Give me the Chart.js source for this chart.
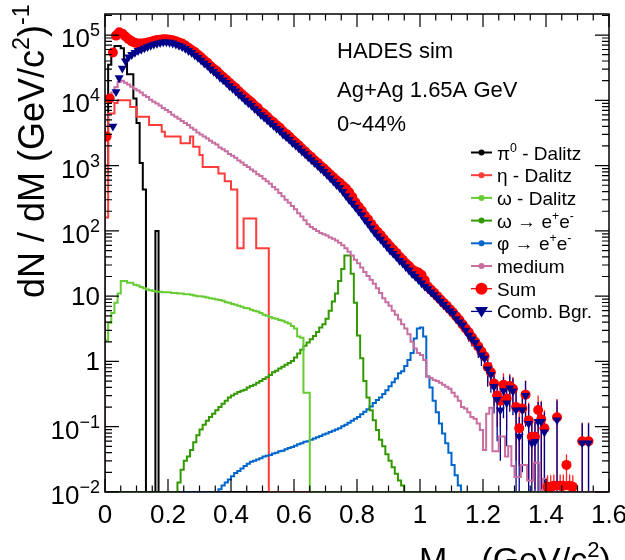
<!DOCTYPE html>
<html>
<head>
<meta charset="utf-8">
<script src="https://cdn.jsdelivr.net/npm/chart.js@4.4.1/dist/chart.umd.min.js"></script>
<style>
  html, body { margin: 0; padding: 0; background: #fff; }
  canvas { display: block; }
</style>
</head>
<body>
<canvas id="dilepton" width="625" height="560"></canvas>
<script>
// all histograms use 10 MeV bins, values are dN/dM per bin
const binWidth = 0.01;
const xMin = 0, xMax = 1.6;
const yMin = 0.01, yMax = 2.1e5;

// cocktail components, each array starts at its own low bin edge
const pi0Start = 0.00;
const pi0Dalitz = [1.0e3, 3.5e4, 5.9e4, 6.8e4, 6.8e4, 6.3e4, 4.2e4, 2.5e4, 2.5e4, 1.07e4,
  4.5e3, 1.1e3, 430, 0, 0, 0, 100];

const etaStart = 0.00;
const etaDalitz = [160, 6.3e3, 6.3e3, 9.1e3, 1.0e4, 1.0e4, 1.0e4, 1.0e4, 7.9e3, 7.9e3,
  5.6e3, 5.6e3, 5.6e3, 5.6e3, 4.2e3, 4.2e3, 4.2e3, 4.2e3, 3.3e3, 2.8e3,
  2.8e3, 2.8e3, 2.8e3, 2.8e3, 2.2e3, 2.2e3, 2.2e3, 2.8e3, 1.95e3, 1.95e3,
  1.45e3, 950, 950, 950, 950, 950, 760, 760, 575, 575,
  430, 430, 54, 54, 155, 155, 155, 155, 54, 54,
  54, 54];

const omegaDalStart = 0.00;
const omegaDalitz = [2.1, 3.9, 5.5, 7.9, 11, 17, 17, 16, 16, 15,
  14.5, 13.8, 13.2, 12.6, 12.3, 12.0, 11.7, 11.7, 11.5, 11.5,
  11.5, 11.2, 11.2, 11.0, 11.0, 10.7, 10.7, 10.5, 10.2, 10.0,
  10.0, 9.8, 9.5, 9.3, 9.1, 8.9, 8.7, 8.5, 8.1, 7.9,
  7.6, 7.4, 7.1, 6.9, 6.6, 6.5, 6.2, 6.0, 5.8, 5.5,
  5.2, 5.0, 4.8, 4.6, 4.5, 4.3, 4.2, 4.0, 3.8, 3.5,
  3.2, 2.4, 2.3, 0.33, 0.33];

const omegaEeStart = 0.23;
const omegaEe = [0.014, 0.022, 0.030, 0.035, 0.044, 0.058, 0.074, 0.091, 0.107, 0.123,
  0.141, 0.158, 0.178, 0.20, 0.224, 0.25, 0.28, 0.30, 0.32, 0.34,
  0.355, 0.37, 0.40, 0.42, 0.44, 0.47, 0.50, 0.54, 0.575, 0.62,
  0.68, 0.72, 0.78, 0.83, 0.89, 0.95, 1.02, 1.15, 1.32, 1.51,
  1.74, 1.95, 2.19, 2.45, 2.82, 3.3, 3.7, 4.5, 6.0, 8.3,
  11, 17, 26, 42, 42, 22, 7.9, 2.5, 1.12, 0.50,
  0.28, 0.178, 0.126, 0.089, 0.063, 0.050, 0.038, 0.030, 0.024, 0.019,
  0.015, 0.0126];

const phiStart = 0.36;
const phiEe = [0.011, 0.0126, 0.014, 0.0155, 0.0174, 0.0195, 0.021, 0.023, 0.025, 0.027,
  0.029, 0.030, 0.0316, 0.033, 0.035, 0.036, 0.037, 0.039, 0.040, 0.042,
  0.043, 0.045, 0.047, 0.049, 0.051, 0.054, 0.056, 0.059, 0.060, 0.063,
  0.066, 0.069, 0.072, 0.076, 0.079, 0.083, 0.087, 0.091, 0.095, 0.102,
  0.107, 0.115, 0.123, 0.132, 0.141, 0.155, 0.17, 0.186, 0.204, 0.23,
  0.257, 0.28, 0.316, 0.363, 0.417, 0.48, 0.55, 0.66, 0.71, 0.85,
  1.05, 1.35, 2.24, 3.2, 3.3, 2.4, 0.59, 0.40, 0.25, 0.166,
  0.112, 0.079, 0.056, 0.040, 0.026, 0.018, 0.0126];

const mediumStart = 0.00;
const medium = [1.0e4, 1.12e4, 1.32e4, 1.58e4, 1.9e4, 2.0e4, 1.86e4, 1.74e4, 1.62e4, 1.51e4,
  1.41e4, 1.32e4, 1.2e4, 1.12e4, 1.02e4, 9.5e3, 8.9e3, 8.3e3, 7.6e3, 7.1e3,
  6.6e3, 6.0e3, 5.6e3, 5.2e3, 4.8e3, 4.5e3, 4.2e3, 3.8e3, 3.55e3, 3.2e3,
  3.0e3, 2.8e3, 2.6e3, 2.4e3, 2.24e3, 2.1e3, 1.9e3, 1.78e3, 1.66e3, 1.51e3,
  1.41e3, 1.32e3, 1.2e3, 1.12e3, 1.02e3, 955, 870, 810, 740, 690,
  630, 575, 525, 470, 430, 380, 340, 300, 270, 240,
  215, 186, 166, 145, 126, 115, 107, 100, 93, 89,
  85, 79, 76, 71, 66, 60, 54, 48, 42, 36,
  32, 27.5, 23.4, 20.4, 17.8, 15.5, 13.2, 11.2, 9.3, 8.1,
  7.1, 6.0, 5.2, 4.4, 3.7, 3.2, 2.6, 2.0, 1.58, 1.35,
  1.26, 1.05, 0.59, 0.56, 0.52, 0.50, 0.47, 0.44, 0.41, 0.38,
  0.33, 0.29, 0.25, 0.20, 0.19, 0.166, 0.141, 0.132, 0.112, 0.089,
  0.044, 0.158, 0.195, 0.042, 0.042, 0.071, 0.071, 0.035, 0.050, 0.025,
  0.017, 0.017, 0.026, 0.026, 0.015, 0.015, 0.028, 0.028, 0.0107, 0.016,
  0.0126, 0.011];

// markers: sum and combinatorial background, null = empty bin
const sumStart = 0.00;
const sumValues = [2.8e3, 1.07e4, 5.4e4, 9.8e4, 1.1e5, 1.05e5, 9.5e4, 8.6e4, 8.0e4, 7.6e4,
  7.4e4, 7.4e4, 7.5e4, 7.7e4, 7.9e4, 8.2e4, 8.4e4, 8.5e4, 8.6e4, 8.6e4,
  8.5e4, 8.3e4, 8.0e4, 7.7e4, 7.4e4, 6.9e4, 6.4e4, 5.9e4, 5.5e4, 5.0e4,
  4.55e4, 4.1e4, 3.75e4, 3.35e4, 3.05e4, 2.8e4, 2.5e4, 2.27e4, 2.07e4, 1.85e4,
  1.69e4, 1.54e4, 1.37e4, 1.24e4, 1.12e4, 1.02e4, 9.3e3, 8.3e3, 7.6e3, 6.7e3,
  6.2e3, 5.6e3, 5.0e3, 4.6e3, 4.15e3, 3.8e3, 3.35e3, 3.06e3, 2.78e3, 2.49e3,
  2.26e3, 2.05e3, 1.83e3, 1.66e3, 1.48e3, 1.35e3, 1.21e3, 1.10e3, 985, 900,
  810, 730, 660, 595, 545, 490, 445, 390, 330, 275,
  235, 205, 172, 150, 128, 111, 97, 86, 75, 66,
  58, 52, 46, 40, 36, 32, 29, 25.5, 24, 23,
  21, 17.5, 14, 12.5, 11.3, 10.0, 8.9, 7.9, 7.1, 6.3,
  5.6, 4.9, 4.3, 3.7, 3.2, 2.8, 2.35, 2.0, 1.7, 1.42,
  1.2, 0.82, 0.68, 0.46, 0.30, 0.25, 0.44, 0.27, 0.42, 0.38,
  0.20, 0.095, 0.19, 0.31, 0.125, 0.07, 0.07, 0.18, 0.13, 0.095,
  0.012, 0.012, 0.0125, 0.14, 0.0125, 0.0125, 0.026, 0.0125, 0.012, null,
  null, 0.06, null, 0.06];

const cbStart = 0.00;
const cbValues = [null, null, 4.0e3, 1.35e4, 2.2e4, 3.1e4, 4.0e4, 4.6e4, 5.0e4, 5.4e4,
  5.75e4, 6.0e4, 6.3e4, 6.6e4, 6.9e4, 7.2e4, 7.4e4, 7.6e4, 7.8e4, 7.8e4,
  7.7e4, 7.5e4, 7.2e4, 6.9e4, 6.6e4, 6.2e4, 5.75e4, 5.4e4, 4.9e4, 4.5e4,
  4.1e4, 3.7e4, 3.4e4, 3.0e4, 2.75e4, 2.5e4, 2.24e4, 2.04e4, 1.86e4, 1.66e4,
  1.51e4, 1.38e4, 1.23e4, 1.12e4, 1.0e4, 9.1e3, 8.3e3, 7.4e3, 6.8e3, 6.0e3,
  5.5e3, 5.0e3, 4.5e3, 4.1e3, 3.7e3, 3.4e3, 3.0e3, 2.75e3, 2.5e3, 2.24e3,
  2.04e3, 1.86e3, 1.66e3, 1.51e3, 1.35e3, 1.23e3, 1.10e3, 1.0e3, 890, 810,
  720, 645, 575, 510, 455, 400, 345, 300, 265, 230,
  200, 175, 148, 129, 110, 95, 83, 74, 65, 57,
  50, 45, 40, 35, 32, 28, 25, 22, 20, 17.8,
  15.8, 14.1, 12.9, 11.5, 10.5, 9.3, 8.3, 7.4, 6.6, 5.9,
  5.4, 4.5, 4.0, 3.6, 3.0, 2.5, 2.2, 1.95, 1.58, 1.25,
  1.12, 0.76, 0.63, 0.41, 0.26, 0.18, 0.355, 0.23, 0.39, 0.35,
  0.18, 0.071, 0.18, 0.30, 0.112, 0.056, 0.059, 0.12, 0.12, 0.083,
  null, null, null, 0.126, null, null, null, null, null, null,
  null, 0.056, null, 0.056];

// statistical errors of the high-mass tail, starting at 1.10
const errStart = 1.10;
const sumErr = [0.6, 0.6, 0.55, 0.6, 0.55, 0.5, 0.5, 0.45, 0.45, 0.4,
  0.4, 0.35, 0.3, 0.25, 0.2, 0.15, 0.22, 0.18, 0.22, 0.2,
  0.17, 0.07, 0.16, 0.2, 0.11, 0.056, 0.059, 0.12, 0.12, 0.083,
  0.006, 0.006, 0.006, 0.126, 0.006, 0.006, 0.012, 0.006, 0.006, 0,
  0, 0.056, 0, 0.056];
const cbErr = [0.6, 0.6, 0.55, 0.6, 0.55, 0.5, 0.5, 0.45, 0.45, 0.4,
  0.4, 0.35, 0.3, 0.25, 0.2, 0.15, 0.22, 0.18, 0.22, 0.2,
  0.17, 0.07, 0.16, 0.2, 0.11, 0.056, 0.059, 0.12, 0.12, 0.083,
  0, 0, 0, 0.126, 0, 0, 0, 0, 0, 0,
  0, 0.056, 0, 0.056];

const xTickValues = [0, 0.2, 0.4, 0.6, 0.8, 1.0, 1.2, 1.4, 1.6];
const xTickLabels = ['0', '0.2', '0.4', '0.6', '0.8', '1', '1.2', '1.4', '1.6'];
const yTickValues = [1e-2, 1e-1, 1, 10, 1e2, 1e3, 1e4, 1e5];
const yTickBase = ['10', '10', '1', '10', '10', '10', '10', '10'];
const yTickExp = ['\u22122', '\u22121', '', '', '2', '3', '4', '5'];

const infoLines = ['HADES sim', 'Ag+Ag 1.65A GeV', '0~44%'];
const xTitle = 'M_{ee} (GeV/c^{2})';
const yTitle = 'dN / dM (GeV/c^{2})^{-1}';

const FONT = '"Liberation Sans", Arial, Helvetica, sans-serif';

function fullBins(start, values) {
  const n = Math.round((xMax - xMin) / binWidth);
  const out = new Array(n).fill(0);
  const s = Math.round(start / binWidth);
  values.forEach((v, i) => { out[s + i] = v; });
  return out;
}

// histogram outline: one point per low bin edge, empty bins sit on the frame
function histPoints(start, values) {
  const bins = fullBins(start, values);
  const pts = [{ x: xMin, y: yMin }];
  bins.forEach((v, i) => pts.push({ x: xMin + i * binWidth, y: Math.max(v, yMin) }));
  pts.push({ x: xMax, y: Math.max(bins[bins.length - 1], yMin) });
  return pts;
}

function markerPoints(start, values) {
  const pts = [];
  values.forEach((v, i) => {
    if (v !== null) pts.push({ x: start + (i + 0.5) * binWidth, y: v });
  });
  return pts;
}

function hist(label, color, start, values, order) {
  return {
    label, data: histPoints(start, values), borderColor: color, backgroundColor: color,
    borderWidth: 2, pointRadius: 0, stepped: true, fill: false, order,
    borderJoinStyle: 'miter', legendMarker: 'dot'
  };
}

// text with ^{..} and _{..}
function richParts(text) {
  const parts = [];
  const re = /([\^_])\{([^}]*)\}/g;
  let last = 0, m;
  while ((m = re.exec(text))) {
    if (m.index > last) parts.push({ t: text.slice(last, m.index), k: '' });
    parts.push({ t: m[2], k: m[1] });
    last = re.lastIndex;
  }
  if (last < text.length) parts.push({ t: text.slice(last), k: '' });
  return parts;
}

function drawRich(ctx, text, x, y, size) {
  let cx = x;
  ctx.textAlign = 'left';
  ctx.textBaseline = 'alphabetic';
  for (const p of richParts(text)) {
    const s = p.k ? size * 0.65 : size;
    ctx.font = s + 'px ' + FONT;
    const dy = p.k === '^' ? -size * 0.42 : (p.k === '_' ? size * 0.25 : 0);
    ctx.fillText(p.t, cx, y + dy);
    cx += ctx.measureText(p.t).width;
  }
  return cx - x;
}

const errorBars = {
  id: 'errorBars',
  beforeDatasetsDraw(chart) {
    const { ctx, scales: { x, y } } = chart;
    const draw = (start, values, errs, color) => {
      const off = Math.round((errStart - start) / binWidth);
      ctx.strokeStyle = color;
      ctx.lineWidth = 1.3;
      ctx.beginPath();
      errs.forEach((e, i) => {
        const v = values[off + i];
        if (!e || v === null) return;
        const px = x.getPixelForValue(start + (off + i + 0.5) * binWidth);
        const lo = Math.max(v - e, yMin), hi = Math.min(v + e, yMax);
        ctx.moveTo(px, y.getPixelForValue(lo));
        ctx.lineTo(px, y.getPixelForValue(hi));
      });
      ctx.stroke();
    };
    ctx.save();
    draw(sumStart, sumValues, sumErr, '#ff2020');
    draw(cbStart, cbValues, cbErr, '#000090');
    ctx.restore();
  }
};

const frameAndText = {
  id: 'frameAndText',
  afterDatasetsDraw(chart) {
    const { ctx, chartArea: a, scales: { x, y } } = chart;
    ctx.save();
    ctx.strokeStyle = '#000';
    ctx.lineWidth = 1.5;
    ctx.strokeRect(a.left, a.top, a.right - a.left, a.bottom - a.top);
    ctx.lineWidth = 1.2;
    ctx.beginPath();
    for (let i = 0; i <= 32; i++) {
      const px = x.getPixelForValue(i * 0.05);
      const len = i % 4 === 0 ? 13 : 6.5;
      ctx.moveTo(px, a.bottom); ctx.lineTo(px, a.bottom - len);
      ctx.moveTo(px, a.top); ctx.lineTo(px, a.top + len);
    }
    for (let e = -2; e <= 5; e++) {
      for (let k = 1; k <= 9; k++) {
        const v = k * Math.pow(10, e);
        if (v > yMax) break;
        const py = y.getPixelForValue(v);
        const len = k === 1 ? 14 : 7;
        ctx.moveTo(a.left, py); ctx.lineTo(a.left + len, py);
        ctx.moveTo(a.right, py); ctx.lineTo(a.right - len, py);
      }
    }
    ctx.stroke();
    ctx.restore();
  },
  afterDraw(chart) {
    const { ctx, chartArea: a, scales: { x, y } } = chart;
    ctx.save();
    ctx.fillStyle = '#000';
    ctx.textBaseline = 'alphabetic';

    // x tick labels
    ctx.font = '26px ' + FONT;
    ctx.textAlign = 'center';
    xTickValues.forEach((v, i) => ctx.fillText(xTickLabels[i], x.getPixelForValue(v), 523));

    // y tick labels, right aligned next to the frame
    ctx.textAlign = 'left';
    yTickValues.forEach((v, i) => {
      const py = y.getPixelForValue(v);
      const right = a.left - 5;
      ctx.font = '26px ' + FONT;
      const bw = ctx.measureText(yTickBase[i]).width;
      ctx.font = '18px ' + FONT;
      const ew = yTickExp[i] ? ctx.measureText(yTickExp[i]).width : 0;
      ctx.font = '26px ' + FONT;
      if (yTickExp[i]) {
        ctx.fillText(yTickBase[i], right - ew - bw, py + 12);
        ctx.font = '18px ' + FONT;
        ctx.fillText(yTickExp[i], right - ew, py + 1);
      } else {
        ctx.fillText(yTickBase[i], right - bw, py + 9);
      }
    });

    // axis titles
    drawRich(ctx, xTitle, 419, 571, 34);
    ctx.save();
    ctx.translate(44, 298);
    ctx.rotate(-Math.PI / 2);
    drawRich(ctx, yTitle, 0, 0, 36);
    ctx.restore();

    // info text
    ctx.font = '22px ' + FONT;
    ctx.textAlign = 'left';
    ctx.fillText(infoLines[0], 337, 58);
    ctx.fillText(infoLines[1], 337, 97);
    ctx.fillText(infoLines[2], 337, 131);

    // legend
    chart.data.datasets.forEach((ds, i) => {
      const cy = 152.5 + i * 22.7;
      ctx.strokeStyle = ds.borderColor;
      ctx.fillStyle = ds.backgroundColor;
      ctx.lineWidth = ds.legendMarker === 'dot' ? 2 : 1.3;
      ctx.beginPath();
      ctx.moveTo(471, cy); ctx.lineTo(492, cy);
      ctx.stroke();
      ctx.beginPath();
      if (ds.legendMarker === 'dot') {
        ctx.arc(481.5, cy, 3, 0, Math.PI * 2);
      } else if (ds.legendMarker === 'circle') {
        ctx.arc(481.5, cy, 6, 0, Math.PI * 2);
      } else {
        ctx.moveTo(475, cy - 4.5); ctx.lineTo(488, cy - 4.5); ctx.lineTo(481.5, cy + 6);
        ctx.closePath();
      }
      ctx.fill();
      ctx.fillStyle = '#000';
      drawRich(ctx, ds.label, 497, cy + 7, 19);
    });
    ctx.restore();
  }
};

const sumSet = {
  label: 'Sum', data: markerPoints(sumStart, sumValues), showLine: false,
  pointStyle: 'circle', pointRadius: 5, pointBorderWidth: 0,
  pointBackgroundColor: '#ff0000', backgroundColor: '#ff0000', borderColor: '#ff0000',
  order: 1, legendMarker: 'circle'
};
const cbSet = {
  label: 'Comb. Bgr.', data: markerPoints(cbStart, cbValues), showLine: false,
  pointStyle: 'triangle', rotation: 180, pointRadius: 5.2, pointBorderWidth: 0,
  pointBackgroundColor: '#000088', backgroundColor: '#000088', borderColor: '#000088',
  order: 0, legendMarker: 'triangle'
};

new Chart(document.getElementById('dilepton'), {
  type: 'line',
  data: {
    datasets: [
      hist('\u03c0^{0} - Dalitz', '#000000', pi0Start, pi0Dalitz, 7),
      hist('\u03b7 - Dalitz', '#ff3c3c', etaStart, etaDalitz, 6),
      hist('\u03c9 - Dalitz', '#66cc33', omegaDalStart, omegaDalitz, 3),
      hist('\u03c9 \u2192 e^{+}e^{-}', '#339900', omegaEeStart, omegaEe, 4),
      hist('\u03c6 \u2192 e^{+}e^{-}', '#0066cc', phiStart, phiEe, 5),
      hist('medium', '#c86ea0', mediumStart, medium, 2),
      sumSet,
      cbSet
    ]
  },
  options: {
    responsive: false,
    animation: false,
    devicePixelRatio: 1,
    events: [],
    layout: { padding: { left: 0, right: 16, top: 14, bottom: 0 } },
    plugins: { legend: { display: false }, tooltip: { enabled: false }, title: { display: false } },
    scales: {
      x: {
        type: 'linear', min: xMin, max: xMax,
        grid: { display: false, drawTicks: false }, border: { display: false },
        ticks: { display: false },
        afterFit: (s) => { s.height = 68; }
      },
      y: {
        type: 'logarithmic', min: yMin, max: yMax,
        grid: { display: false, drawTicks: false }, border: { display: false },
        ticks: { display: false },
        afterFit: (s) => { s.width = 105; }
      }
    }
  },
  plugins: [errorBars, frameAndText]
});
</script>
</body>
</html>
